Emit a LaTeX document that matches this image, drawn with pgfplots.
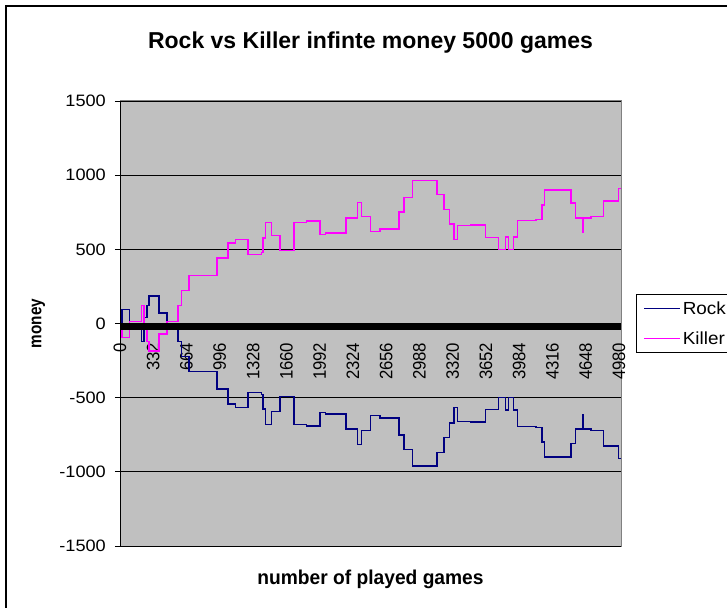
\documentclass[border=0pt]{standalone}
\usepackage{fontspec}
\setmainfont{Liberation Sans}
\newfontfamily\ytickfont[FakeStretch=1.1]{Liberation Sans}
\newfontfamily\xtickfont[FakeStretch=0.93]{Liberation Sans}
\newfontfamily\xlabfont[FakeStretch=0.96]{Liberation Sans}
\newfontfamily\ylabfont[FakeStretch=0.85]{Liberation Sans}
\newfontfamily\legfont[FakeStretch=1.08]{Liberation Sans}
\usepackage{pgfplots}
\usepackage{pgfplotstable}
\pgfplotsset{compat=1.18}
\definecolor{rockc}{HTML}{000080}
\definecolor{killc}{HTML}{FF00FF}
\definecolor{plotbg}{HTML}{C0C0C0}
\definecolor{plotbd}{HTML}{808080}

\pgfplotstableread{
game rock killer
0 0 0
21 96 -96
95 -15 15
212 -121 121
238 40 -40
268 120 -120
288 186 -186
388 70 -70
468 -15 15
578 -121 121
612 -224 224
688 -323 323
968 -442 442
1078 -543 543
1150 -565 565
1278 -464 464
1412 -480 480
1428 -577 577
1452 -681 681
1512 -595 595
1595 -491 491
1735 -681 681
1860 -690 690
1995 -598 598
2050 -610 610
2255 -711 711
2368 -816 816
2412 -720 720
2502 -621 621
2595 -637 637
2785 -751 751
2835 -850 850
2922 -962 962
3162 -868 868
3235 -769 769
3288 -672 672
3335 -565 565
3368 -659 659
3500 -665 665
3645 -581 581
3778 -498 498
3845 -583 583
3878 -498 498
3928 -583 583
3968 -693 693
4150 -700 700
4212 -800 800
4235 -901 901
4502 -811 811
4545 -711 711
4620 -614 614
4628 -711 711
4700 -720 720
4828 -827 827
4978 -912 912
5000 -912 912
}\gamedata

\begin{document}
\begin{tikzpicture}
\useasboundingbox (0,0) rectangle (727bp,608bp);
\fill[white] (0,0) rectangle (727bp,608bp);
\draw[line width=1.5bp] (6bp,0) -- (6bp,602bp) -- (727bp,602bp);
\begin{axis}[
  at={(120bp,62bp)}, anchor=south west,
  scale only axis, width=501bp, height=445bp,
  xmin=0, xmax=5000, ymin=-1500, ymax=1500,
  axis x line*=middle, axis y line*=left,
  hide obscured x ticks=false,
  axis line style={black, line width=0.8bp},
  axis background/.style={fill=plotbg, draw=plotbd, line width=1bp},
  ytick={-1500,-1000,-500,0,500,1000,1500},
  yticklabels={-1500,-1000,-500,0,500,1000,1500},
  ymajorgrids, grid style={black, line width=0.8bp},
  ytick style={black, line width=0.8bp},
  tick align=outside, major tick length=5bp,
  yticklabel style={font=\ytickfont\fontsize{16.5bp}{19bp}\selectfont, anchor=east, inner sep=0pt},
  yticklabel shift=9bp,
  xtick={0,332,664,996,1328,1660,1992,2324,2656,2988,3320,3652,3984,4316,4648,4980},
  xticklabels={0,332,664,996,1328,1660,1992,2324,2656,2988,3320,3652,3984,4316,4648,4980},
  xtick style={draw=none},
  xticklabel style={font=\xtickfont\fontsize{18bp}{20bp}\selectfont, rotate=90, anchor=east, inner sep=0pt},
  xticklabel shift=14bp,
  title={Rock vs Killer infinte money 5000 games},
  title style={font=\bfseries\fontsize{23bp}{26bp}\selectfont, at={(axis description cs:0.5,1.117)}, anchor=center},
  xlabel={number of played games},
  xlabel style={font=\xlabfont\bfseries\fontsize{20bp}{23bp}\selectfont, at={(axis description cs:0.5,-0.074)}, anchor=center},
  ylabel={money},
  ylabel style={font=\ylabfont\bfseries\fontsize{18bp}{21bp}\selectfont, at={(axis description cs:-0.163,0.5)}, anchor=center},
  legend image code/.code={\draw[#1] (0bp,0bp) -- (36bp,0bp);},
  legend style={at={(axis description cs:1.03,0.566)}, anchor=north west,
    draw=black, line width=0.8bp, fill=white,
    font={\legfont\fontsize{17.5bp}{20bp}\selectfont},
    inner xsep=7bp, inner ysep=5bp, row sep=12bp, nodes={inner sep=2bp}},
  legend cell align=left,
  clip=false,
]
\addplot[const plot, rockc, line width=1.4bp] table[x=game, y=rock]{\gamedata};
\addlegendentry{Rock}
\addplot[const plot, killc, line width=1.4bp] table[x=game, y=killer]{\gamedata};
\addlegendentry{Killer}
\fill[black] ([yshift=0.6bp]axis cs:0,0) rectangle ([yshift=-6.5bp]axis cs:5000,0);
\end{axis}
\end{tikzpicture}
\end{document}
